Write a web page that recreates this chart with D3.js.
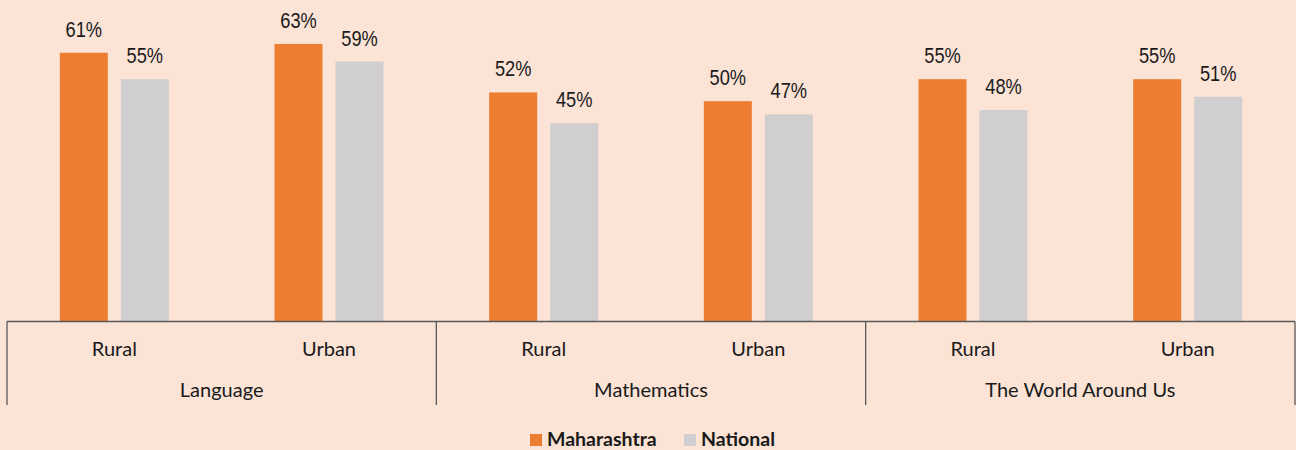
<!doctype html>
<html>
  <head>
    <script src="https://cdn.jsdelivr.net/npm/d3@7/dist/d3.min.js"></script>
    <style>
      body, html {
        margin: 0;
        background: #fbe3d6;
      }
      svg {
        display: block;
      }
      text.value {
        font-family: "Liberation Sans", Arial, sans-serif;
        font-size: 22px;
        fill: #1a1a1a;
      }
      text.cat {
        font-family: Lato, "Open Sans", sans-serif;
        font-size: 20px;
        fill: #1a1a1a;
      }
      text.legend {
        font-family: Lato, "Open Sans", sans-serif;
        font-size: 19.5px;
        font-weight: bold;
        fill: #1a1a1a;
      }
      line.axis {
        stroke: #595959;
        stroke-width: 1.3px;
      }
    </style>
  </head>
  <body>
    <svg width="1296" height="450"></svg>
    <script>

      var subjects = ["Language", "Mathematics", "The World Around Us"];
      var areas = ["Rural", "Urban"];
      var seriesNames = ["Maharashtra", "National"];
      var maharashtra = [0.61, 0.63, 0.52, 0.50, 0.55, 0.55];
      var national = [0.55, 0.59, 0.45, 0.47, 0.48, 0.51];
      var colors = ["#ed7d31", "#d0cece"];

      var rows = [];
      subjects.forEach((s, i) => {
        areas.forEach((a, j) => {
          var k = i * areas.length + j;
          rows.push({ subject: s, area: a, values: [maharashtra[k], national[k]] });
        });
      });

      var svg = d3.select("svg");

      var x0 = d3.scaleBand().domain(subjects).range([7, 1295]);
      var x1 = d3.scaleBand().domain(areas).range([0, x0.bandwidth()]);
      var x2 = d3.scaleBand().domain(seriesNames).range([0, x1.bandwidth()])
        .paddingInner(0.213).paddingOuter(0.866);
      var y = d3.scaleLinear().domain([0, 0.7]).range([321.5, 13.1]);
      var fmt = d3.format(".0%");

      var cell = svg.selectAll("g.cell")
        .data(rows)
        .join("g")
        .attr("class", "cell")
        .attr("transform", d => "translate(" + (x0(d.subject) + x1(d.area)) + ",0)");

      var bars = cell.selectAll("g.bar")
        .data(d => d.values.map((v, i) => ({ name: seriesNames[i], value: v, i: i })))
        .join("g")
        .attr("class", "bar");

      bars.append("rect")
        .attr("x", d => x2(d.name))
        .attr("y", d => y(d.value))
        .attr("width", x2.bandwidth())
        .attr("height", d => y(0) - y(d.value))
        .attr("fill", d => colors[d.i]);

      // narrow look of the labels: squeeze horizontally
      bars.append("text")
        .attr("class", "value")
        .attr("transform", d => "translate(" + (x2(d.name) + x2.bandwidth() / 2) + "," + (y(d.value) - 16) + ") scale(0.83,1)")
        .attr("text-anchor", "middle")
        .text(d => fmt(d.value));

      // category axis
      svg.append("line")
        .attr("class", "axis")
        .attr("x1", x0.range()[0]).attr("x2", x0.range()[1])
        .attr("y1", y(0)).attr("y2", y(0));

      var edges = subjects.map(s => x0(s)).concat([x0.range()[1]]);
      svg.selectAll("line.tick")
        .data(edges)
        .join("line")
        .attr("class", "axis")
        .attr("x1", d => d).attr("x2", d => d)
        .attr("y1", y(0)).attr("y2", 405);

      cell.append("text")
        .attr("class", "cat")
        .attr("x", x1.bandwidth() / 2)
        .attr("y", 356)
        .attr("text-anchor", "middle")
        .text(d => d.area);

      svg.selectAll("text.subject")
        .data(subjects)
        .join("text")
        .attr("class", "cat")
        .attr("x", d => x0(d) + x0.bandwidth() / 2)
        .attr("y", 397)
        .attr("text-anchor", "middle")
        .text(d => d);

      // legend
      var legendX = [530, 684];
      var legend = svg.selectAll("g.legend")
        .data(seriesNames)
        .join("g")
        .attr("class", "legend")
        .attr("transform", (d, i) => "translate(" + legendX[i] + ",434)");

      legend.append("rect")
        .attr("width", 12).attr("height", 12)
        .attr("fill", (d, i) => colors[i]);

      legend.append("text")
        .attr("class", "legend")
        .attr("x", 17)
        .attr("y", 12)
        .text(d => d);

    </script>
  </body>
</html>
